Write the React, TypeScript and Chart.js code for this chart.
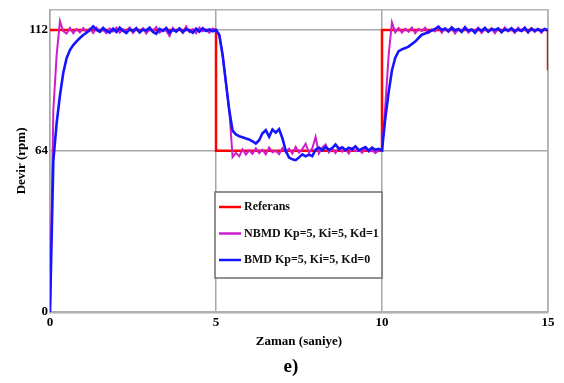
import React, { useEffect, useRef } from "react";
import { Chart, registerables } from "chart.js";
Chart.register(...registerables);

// Time axis (seconds), 0.1 s steps
const timeSec = [
  0, 0.1, 0.2, 0.3, 0.4, 0.5, 0.6, 0.7, 0.8, 0.9,
  1, 1.1, 1.2, 1.3, 1.4, 1.5, 1.6, 1.7, 1.8, 1.9,
  2, 2.1, 2.2, 2.3, 2.4, 2.5, 2.6, 2.7, 2.8, 2.9,
  3, 3.1, 3.2, 3.3, 3.4, 3.5, 3.6, 3.7, 3.8, 3.9,
  4, 4.1, 4.2, 4.3, 4.4, 4.5, 4.6, 4.7, 4.8, 4.9,
  5, 5.1, 5.2, 5.3, 5.4, 5.5, 5.6, 5.7, 5.8, 5.9,
  6, 6.1, 6.2, 6.3, 6.4, 6.5, 6.6, 6.7, 6.8, 6.9,
  7, 7.1, 7.2, 7.3, 7.4, 7.5, 7.6, 7.7, 7.8, 7.9,
  8, 8.1, 8.2, 8.3, 8.4, 8.5, 8.6, 8.7, 8.8, 8.9,
  9, 9.1, 9.2, 9.3, 9.4, 9.5, 9.6, 9.7, 9.8, 9.9,
  10, 10.1, 10.2, 10.3, 10.4, 10.5, 10.6, 10.7, 10.8, 10.9,
  11, 11.1, 11.2, 11.3, 11.4, 11.5, 11.6, 11.7, 11.8, 11.9,
  12, 12.1, 12.2, 12.3, 12.4, 12.5, 12.6, 12.7, 12.8, 12.9,
  13, 13.1, 13.2, 13.3, 13.4, 13.5, 13.6, 13.7, 13.8, 13.9,
  14, 14.1, 14.2, 14.3, 14.4, 14.5, 14.6, 14.7, 14.8, 14.9,
  15,
];

// NBMD Kp=5, Ki=5, Kd=1 (magenta)
const nbmdRpm = [
  0, 80, 102, 115.5, 111.5, 110.6, 112.8, 110.7, 112.4, 111,
  112.7, 111.2, 112.5, 110.8, 112.9, 111.3, 112.1, 110.7, 112.6, 111.4,
  112.9, 110.9, 112.2, 111.6, 113, 110.8, 112.4, 111.1, 112.7, 110.6,
  112.3, 111.5, 113.2, 110.9, 112.1, 111.7, 109.6, 112.8, 111.2, 112.5,
  110.8, 113.4, 111.1, 112.3, 110.7, 112.9, 111.5, 112.2, 110.9, 112.6,
  112, 110, 102, 91, 80, 61.5, 63.2, 61.8, 64.6, 62.5,
  64.2, 62.8, 65, 63.1, 64.4, 62.6, 65.3, 63.4, 64, 62.7,
  65.1, 63.5, 64.8, 62.9, 65.6, 63.3, 64.7, 66.8, 63.2, 65,
  69.5, 63, 65.3, 66.5, 63.4, 64.9, 63.1, 65.2, 63.7, 64.6,
  62.9, 65.1, 63.8, 64.5, 63.2, 65, 63.6, 64.3, 63.1, 64.2,
  64, 82, 102, 115, 111, 112.8, 110.9, 112.5, 111.3, 113,
  110.7, 112.4, 111.6, 112.9, 110.8, 112.2, 111.4, 113.1, 110.9, 112.6,
  111.2, 112.8, 110.6, 112.3, 111.5, 113.3, 110.9, 112.1, 111.6, 112.9,
  110.8, 112.4, 111.3, 112.7, 110.7, 112.5, 111.1, 113, 111.4, 112.2,
  110.8, 112.9, 111.5, 112.3, 110.9, 112.7, 111.2, 112.5, 110.8, 112.4,
  111.6,
];

// BMD Kp=5, Ki=5, Kd=0 (blue)
const bmdRpm = [
  0, 60, 75, 86, 95, 100.8, 104, 106, 107.5, 108.8,
  110, 110.9, 112, 113.4, 112.1, 111.3, 112.8, 111.6, 110.9, 112.5,
  111.2, 112.9, 111.7, 110.8, 112.3, 111.5, 112.7, 111, 112.2, 111.8,
  112.9, 111.2, 110.5, 112.4, 111.6, 112.8, 110.9, 112.1, 111.4, 112.6,
  111.1, 112.3, 111.8, 110.9, 112.5, 111.3, 112.7, 111.6, 112.2, 111.5,
  112, 110, 102, 91, 80, 72, 70.5, 69.8, 69.4, 68.9,
  68.5, 67.8, 66.9, 68.2, 71, 72.2, 69.6, 72.5, 71.2, 72.6,
  69, 64, 61.3, 60.6, 60.3, 61.4, 62.6, 61.8, 62.5, 61.9,
  64.5, 65.3, 64.2, 65.6, 64.4, 65.1, 66.5, 64.8, 65.4, 64.3,
  65.2, 64.6, 65.8, 64.2, 64.9, 65.5, 64.1, 65.3, 64.4, 64.8,
  64.2, 77, 87.2, 96, 101, 103.6, 104.3, 104.8, 105.4, 106.4,
  107.4, 108.8, 110.1, 110.6, 111.2, 111.8, 112.4, 113.3, 111.9, 112.6,
  111.5, 113, 111.8, 112.4, 111.2, 112.9, 111.7, 112.2, 110.9, 112.5,
  111.6, 112.8, 111.3, 112.4, 111.9, 112.6, 111.1, 112.3, 111.8, 112.7,
  111.4, 112.2, 111.6, 112.9, 111.2, 112.5, 111.7, 112.3, 111.5, 112.4,
  111.8,
];

// Reference (Referans) step signal
const refTime = [0, 5, 5, 10, 10, 15, 15];
const refRpm = [112, 112, 64, 64, 112, 112, 96];

const xTicks = [0, 5, 10, 15];
const yTicks = [0, 64, 112];
const seriesLabels = ["Referans", "NBMD Kp=5, Ki=5, Kd=1", "BMD Kp=5, Ki=5, Kd=0"];
const xTitle = "Zaman (saniye)";
const yTitle = "Devir (rpm)";
const caption = "e)";

const SERIF = "'Liberation Serif', 'Times New Roman', serif";

const framePlugin = {
  id: "frame",
  beforeDatasetsDraw(chart: any) {
    const { ctx, chartArea: a } = chart;
    ctx.save();
    ctx.strokeStyle = "#b4b4b4";
    ctx.lineWidth = 1.5;
    ctx.beginPath();
    ctx.moveTo(a.left, a.top);
    ctx.lineTo(a.right, a.top);
    ctx.lineTo(a.right, a.bottom);
    ctx.stroke();
    ctx.restore();
  },
};

const legendPlugin = {
  id: "boxLegend",
  afterDatasetsDraw(chart: any) {
    const ctx = chart.ctx;
    const x0 = 215, y0 = 192, w = 167, h = 86;
    ctx.save();
    ctx.fillStyle = "#ffffff";
    ctx.fillRect(x0, y0, w, h);
    ctx.strokeStyle = "#6e6e6e";
    ctx.lineWidth = 1.5;
    ctx.strokeRect(x0, y0, w, h);
    chart.data.datasets.forEach((ds: any, i: number) => {
      const y = y0 + 15 + i * 26.5;
      ctx.strokeStyle = ds.borderColor;
      ctx.lineWidth = 2.5;
      ctx.beginPath();
      ctx.moveTo(x0 + 4, y);
      ctx.lineTo(x0 + 26, y);
      ctx.stroke();
      ctx.fillStyle = "#111";
      ctx.font = `bold 12px ${SERIF}`;
      ctx.textBaseline = "middle";
      ctx.textAlign = "left";
      ctx.fillText(ds.label, x0 + 29, y);
    });
    ctx.restore();
  },
};

const captionPlugin = {
  id: "caption",
  afterDraw(chart: any) {
    const ctx = chart.ctx;
    ctx.save();
    ctx.fillStyle = "#000";
    ctx.font = `bold 19px ${SERIF}`;
    ctx.textAlign = "center";
    ctx.textBaseline = "middle";
    ctx.fillText(caption, 291, 367);
    ctx.restore();
  },
};

export default function App() {
  const ref = useRef<HTMLCanvasElement | null>(null);

  useEffect(() => {
    const prevMargin = document.body.style.margin;
    document.body.style.margin = "0";
    if (!ref.current) return;
    const chart = new Chart(ref.current, {
      type: "line",
      data: {
        datasets: [
          {
            label: seriesLabels[0],
            data: refTime.map((t, i) => ({ x: t, y: refRpm[i] })),
            borderColor: "#ff0000",
            borderWidth: 2.5,
            pointRadius: 0,
            tension: 0,
            order: 3,
          },
          {
            label: seriesLabels[1],
            data: timeSec.map((t, i) => ({ x: t, y: nbmdRpm[i] })),
            borderColor: "#cc1fcc",
            borderWidth: 2,
            pointRadius: 0,
            tension: 0,
            order: 2,
          },
          {
            label: seriesLabels[2],
            data: timeSec.map((t, i) => ({ x: t, y: bmdRpm[i] })),
            borderColor: "#1414ff",
            borderWidth: 2.6,
            pointRadius: 0,
            tension: 0,
            order: 1,
          },
        ],
      },
      options: {
        animation: false,
        responsive: false,
        layout: { padding: { top: 6, right: 16, bottom: 30, left: 0 } },
        plugins: {
          legend: { display: false },
          tooltip: { enabled: false },
          title: { display: false },
        },
        scales: {
          x: {
            type: "linear",
            min: 0,
            max: 15,
            afterBuildTicks: (s: any) => {
              s.ticks = xTicks.map((v) => ({ value: v }));
            },
            afterFit: (s: any) => {
              s.height = 41;
            },
            grid: { color: "#a8a8a8", lineWidth: 1.5, drawTicks: false },
            border: { color: "#b0b0b0", width: 2.5 },
            ticks: {
              padding: 3,
              color: "#000",
              maxRotation: 0,
              font: { family: SERIF, size: 13, weight: "bold" },
            },
            title: {
              display: true,
              text: xTitle,
              color: "#000",
              font: { family: SERIF, size: 13, weight: "bold" },
              padding: { top: 0, bottom: 4 },
            },
          },
          y: {
            type: "linear",
            min: 0,
            max: 120,
            afterBuildTicks: (s: any) => {
              s.ticks = yTicks.map((v) => ({ value: v }));
            },
            afterFit: (s: any) => {
              s.width = 50;
            },
            grid: { color: "#a8a8a8", lineWidth: 1.5, drawTicks: false },
            border: { color: "#a8a8a8", width: 1.5 },
            ticks: {
              padding: 2,
              color: "#000",
              font: { family: SERIF, size: 13, weight: "bold" },
            },
            title: {
              display: true,
              text: yTitle,
              color: "#000",
              font: { family: SERIF, size: 13, weight: "bold" },
              padding: { top: 14, bottom: 0 },
            },
          },
        },
      },
      plugins: [framePlugin, legendPlugin, captionPlugin],
    } as any);
    return () => {
      chart.destroy();
      document.body.style.margin = prevMargin;
    };
  }, []);

  return (
    <div style={{ position: "absolute", left: 0, top: 0, width: 564, height: 383, background: "#fff" }}>
      <canvas ref={ref} width={564} height={383} style={{ display: "block" }} />
    </div>
  );
}
